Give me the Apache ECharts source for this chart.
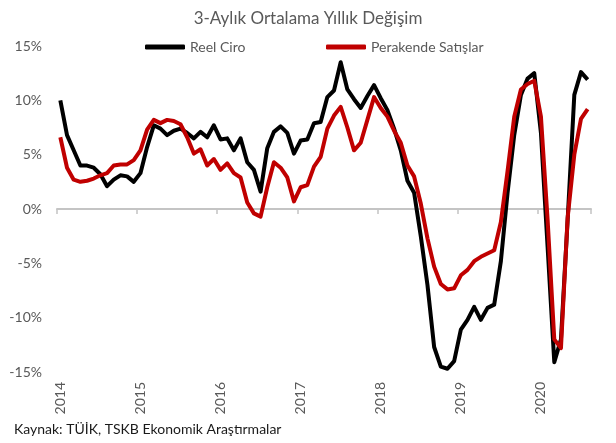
<!DOCTYPE html>
<html>
<head>
<meta charset="utf-8">
<script src="https://cdn.jsdelivr.net/npm/echarts@6/dist/echarts.min.js"></script>
<style>
html,body{margin:0;padding:0;background:#fff;}
#c{width:616px;height:443px;}
</style>
</head>
<body>
<div id="c"></div>
<script>
const years = ['2014','2015','2016','2017','2018','2019','2020'];
const monthNames = ['01','02','03','04','05','06','07','08','09','10','11','12'];
const lastMonthIn2020 = 8;
const categories = [];
years.forEach(function (y, yi) {
  const n = (yi === years.length - 1) ? lastMonthIn2020 : 12;
  for (let m = 0; m < n; m++) categories.push(y + '-' + monthNames[m]);
});

const reelCiro = [
  10.0, 6.8, 5.4, 4.0, 4.0, 3.8, 3.2, 2.1, 2.7, 3.1, 3.0, 2.5,
  3.3, 5.7, 7.7, 7.4, 6.8, 7.2, 7.4, 7.0, 6.5, 7.1, 6.6, 7.7,
  6.4, 6.5, 5.4, 6.5, 4.3, 3.6, 1.6, 5.6, 7.1, 7.6, 7.0, 5.1,
  6.3, 6.4, 7.9, 8.0, 10.3, 10.9, 13.5, 11.0, 10.1, 9.3, 10.4, 11.4,
  10.2, 9.1, 7.4, 5.4, 2.6, 1.5, -2.5, -7.0, -12.7, -14.5, -14.7, -14.0,
  -11.1, -10.2, -9.0, -10.2, -9.1, -8.8, -4.8, 1.5, 6.8, 10.5, 12.0, 12.5,
  7.0, -3.5, -14.1, -12.0, -1.0, 10.5, 12.6, 11.9
];
const perakendeSatislar = [
  6.6, 3.8, 2.7, 2.5, 2.6, 2.8, 3.1, 3.3, 4.0, 4.1, 4.1, 4.5,
  5.4, 7.3, 8.2, 7.9, 8.2, 8.1, 7.8, 6.6, 5.1, 5.5, 4.0, 4.6,
  3.6, 4.2, 3.3, 2.9, 0.6, -0.4, -0.7, 2.0, 4.3, 3.8, 2.9, 0.7,
  2.0, 2.2, 3.9, 4.8, 7.4, 8.6, 9.4, 7.5, 5.4, 6.1, 8.2, 10.3,
  9.3, 8.5, 7.2, 6.1, 4.0, 3.0, 0.5, -2.7, -5.3, -6.9, -7.4, -7.3,
  -6.1, -5.6, -4.8, -4.4, -4.1, -3.8, -1.2, 3.5, 8.5, 11.0, 11.5, 11.8,
  8.5, -1.0, -12.0, -12.8, -0.8, 5.0, 8.3, 9.2
];
const seriesNames = ['Reel Ciro', 'Perakende Satışlar'];
const yTicks = { min: -15, max: 15, interval: 5 };
const titleText = '3-Aylık Ortalama Yıllık Değişim';
const sourceText = 'Kaynak: TÜİK, TSKB Ekonomik Araştırmalar';

const FONT = 'Lato, "Open Sans", sans-serif';
const GREY = '#595959';
const AXIS_GREY = '#c4c4c4';

const chart = echarts.init(document.getElementById('c'), null, { renderer: 'canvas' });
const yearTick = function (i) { return i % 12 === 0; };

chart.setOption({
  animation: false,
  backgroundColor: '#ffffff',
  title: {
    text: titleText,
    left: 'center',
    top: 5,
    textStyle: { fontFamily: FONT, fontSize: 17, fontWeight: 'normal', color: GREY }
  },
  legend: [
    {
      data: [seriesNames[0]],
      left: 140, top: 35,
      icon: 'roundRect', itemWidth: 40, itemHeight: 5,
      textStyle: { fontFamily: FONT, fontSize: 14, color: GREY }
    },
    {
      data: [seriesNames[1]],
      left: 321, top: 35,
      icon: 'roundRect', itemWidth: 40, itemHeight: 5,
      textStyle: { fontFamily: FONT, fontSize: 14, color: GREY }
    }
  ],
  grid: { left: 57, right: 25, top: 46, bottom: 71, containLabel: false },
  xAxis: [
    {
      type: 'category',
      data: categories,
      boundaryGap: true,
      position: 'bottom',
      axisLine: { show: true, onZero: true, lineStyle: { color: AXIS_GREY, width: 2 } },
      axisTick: { show: true, interval: yearTick, length: 5, lineStyle: { color: AXIS_GREY, width: 1.5 } },
      axisLabel: { show: false },
      splitLine: { show: false }
    },
    {
      type: 'category',
      data: categories,
      boundaryGap: true,
      position: 'bottom',
      axisLine: { show: false, onZero: false },
      axisTick: { show: false },
      splitLine: { show: false },
      axisLabel: {
        show: true,
        interval: yearTick,
        rotate: 90,
        margin: 10,
        fontFamily: FONT,
        fontSize: 14,
        color: GREY,
        formatter: function (v) { return v.slice(0, 4); }
      }
    }
  ],
  yAxis: {
    type: 'value',
    min: yTicks.min,
    max: yTicks.max,
    interval: yTicks.interval,
    axisLine: { show: false },
    axisTick: { show: false },
    splitLine: { show: false },
    axisLabel: {
      margin: 15,
      fontFamily: FONT,
      fontSize: 14,
      color: GREY,
      formatter: '{value}%'
    }
  },
  graphic: [
    {
      type: 'text',
      left: 14,
      top: 422,
      style: { text: sourceText, fontFamily: FONT, fontSize: 14, fill: '#1a1a1a' }
    }
  ],
  series: [
    {
      name: seriesNames[0],
      type: 'line',
      xAxisIndex: 0,
      data: reelCiro,
      symbol: 'none',
      color: '#000000',
      lineStyle: { width: 4, color: '#000000', join: 'round' },
      z: 3
    },
    {
      name: seriesNames[1],
      type: 'line',
      xAxisIndex: 0,
      data: perakendeSatislar,
      symbol: 'none',
      color: '#c00000',
      lineStyle: { width: 4, color: '#c00000', join: 'round' },
      z: 4
    }
  ]
});
</script>
</body>
</html>
